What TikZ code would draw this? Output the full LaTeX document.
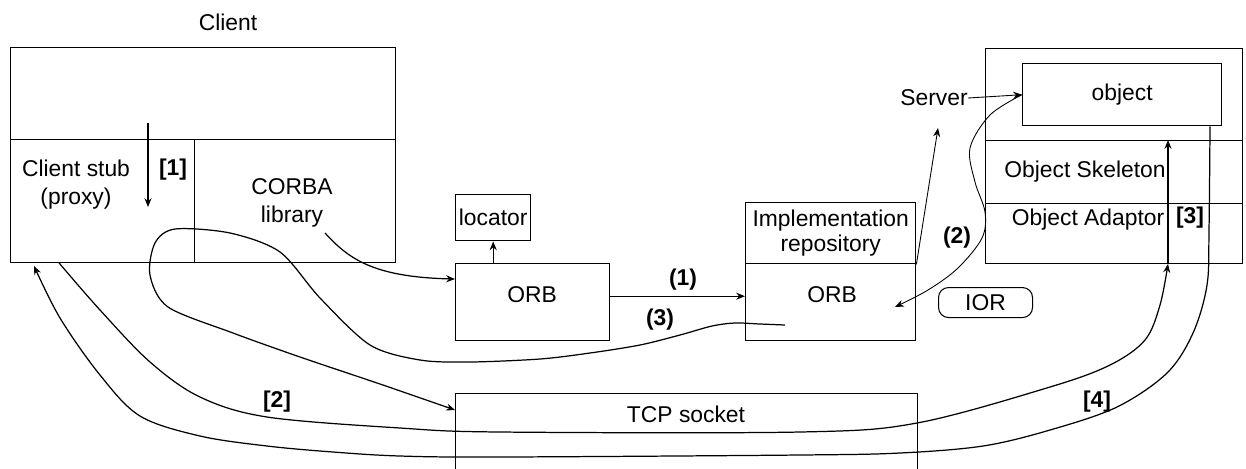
\documentclass[tikz,border=0pt]{standalone}
\usepackage{fontspec}
\setmainfont{Liberation Sans}
\usepackage{tikz}
\usetikzlibrary{shapes,arrows,arrows.meta,positioning,calc}

\begin{document}
\begin{tikzpicture}[x=0.02cm, y=-0.02cm,
            font=\fontsize{13}{16}\selectfont,
            box/.style={draw, line width=0.8pt, inner sep=0pt, anchor=north west},
            part/.style={draw, line width=0.5pt, inner sep=0pt, anchor=north west},
            txt/.style={inner sep=0pt, align=center},
            tag/.style={inner sep=0pt, font=\fontsize{13}{16}\selectfont\bfseries},
            flow/.style={line width=0.7pt, -{Stealth[length=5pt,width=4pt]}}]
            \useasboundingbox (0,0) rectangle (1246,468);
            \clip (0,0) rectangle (1246,468);

            % client side
            \node[txt] (clientlbl) at (228,22) {Client};
            \node[part, minimum width=3.68cm, minimum height=2.46cm] (stub) at (10,139) {};
            \node[part, minimum width=4.02cm, minimum height=2.46cm] (corba) at (194,139) {};
            \node[box, minimum width=7.7cm, minimum height=1.84cm] (clienttop) at (10,47) {};
            \node[box, minimum width=7.7cm, minimum height=4.3cm] (client) at (10,47) {};
            \node[txt] (stubtxt) at (76,185) {Client stub\\(proxy)};
            \node[txt] (corbatxt) at (292,203) {CORBA\\library};

            % ORBs and repository
            \node[box, minimum width=1.5cm, minimum height=0.92cm] (locator) at (455,194) {locator};
            \node[box, minimum width=3.08cm, minimum height=1.54cm] (orbA) at (455,263) {};
            \node[txt] (orbAtxt) at (532,295) {ORB};
            \node[box, minimum width=3.4cm, minimum height=1.22cm, align=center,
                  font=\fontsize{13}{14}\selectfont] (impl) at (745,202) {Implementation\\repository};
            \node[box, minimum width=3.4cm, minimum height=1.54cm] (orbB) at (745,263) {};
            \node[txt] (orbBtxt) at (832,295) {ORB};
            \node[box, minimum width=9.24cm, minimum height=2cm] (tcp) at (455,393) {};
            \node[txt] (tcptxt) at (686,414) {TCP socket};
            \node[box, line width=0.6pt, rounded corners=0.2cm, minimum width=1.88cm,
                  minimum height=0.6cm] (ior) at (938,287) {IOR};

            % server side
            \node[txt] (srvlbl) at (934,98) {Server};
            \node[part, minimum width=5.14cm, minimum height=1.84cm] (servertop) at (985,48) {};
            \node[part, minimum width=5.14cm, minimum height=1.26cm] (skeleton) at (985,140) {};
            \node[part, minimum width=5.14cm, minimum height=1.2cm] (adaptor) at (985,203) {};
            \node[box, minimum width=5.14cm, minimum height=4.3cm] (server) at (985,48) {};
            \node[box, minimum width=3.98cm, minimum height=1.24cm] (object) at (1022,63) {object};
            \node[txt] (skeltxt) at (1085,172) {Object Skeleton};
            \node[txt] (adapttxt) at (1088,220) {Object Adaptor};

            % step labels
            \node[tag] (t1) at (173,170) {[1]};
            \node[tag] (r1) at (683,280) {(1)};
            \node[tag] (r2) at (957,238) {(2)};
            \node[tag] (r3) at (660,320) {(3)};
            \node[tag] (t2) at (277,402) {[2]};
            \node[tag] (t3) at (1190,218) {[3]};
            \node[tag] (t4) at (1097,402) {[4]};

            % free ends
            \coordinate (c1a) at (148,123);
            \coordinate (c1b) at (148,207);
            \coordinate (libout) at (325,233);
            \coordinate (c3a) at (785,325);
            \coordinate (srvin) at (938,128);
            \coordinate (c2end) at (895,307);
            \coordinate (vx) at (1168,0);
            \coordinate (wx) at (1210,0);

            % connectors
            \draw[flow] (c1a) -- (c1b);
            \draw[flow] (libout) .. controls (348,258) and (372,277) .. ($(orbA.north west)+(0,16)$);
            \draw[flow] (locator.south |- orbA.north) -- (locator.south);
            \draw[flow] ([yshift=0.12cm]orbA.east) -- ([yshift=0.12cm]orbB.west);
            \draw[flow] plot[smooth, tension=0.5] coordinates {(c3a) (760,324) (735,323)
                (712,326) (680,335) (640,345) (590,353) (540,359) (470,362) (420,360) (370,345)
                (320,298) (280,252) (230,233) (175,229) (155,243) (150,275) (168,307) (233,333)
                (300,357) (380,384) ($(tcp.north west)+(0,17)$)};
            \draw[flow] plot[smooth, tension=0.55] coordinates {($(stub.south west)+(49,0)$)
                (100,310) (150,362) (200,397) (267,417) (400,428) (500,432) (800,432) (917,423)
                (1050,387) (1110,365) (1145,340) (1160,305) (adaptor.south -| vx)};
            \draw[flow] (adaptor.south -| vx) -- (skeleton.north -| vx);
            \draw[flow] plot[smooth, tension=0.55] coordinates {(object.south -| wx) (1209,230)
                (1207,285) (1193,333) (1167,373) (1117,407) (1050,430) (983,446) (900,453)
                (800,455) (500,457) (400,456) (333,452) (267,446) (200,436) (140,416) (100,375)
                (60,318) ($(stub.south west)+(24,3)$)};
            \draw[flow, line width=0.5pt] (impl.south east) -- (srvin);
            \draw[flow, line width=0.5pt] (srvlbl.east) -- (object.west);
            \draw[flow, line width=0.5pt] plot[smooth, tension=0.55] coordinates {(object.west)
                (990,115) (970,148) (975,182) (985,212) (982,238) (958,268) (928,290) (c2end)};
        \end{tikzpicture}
\end{document}
